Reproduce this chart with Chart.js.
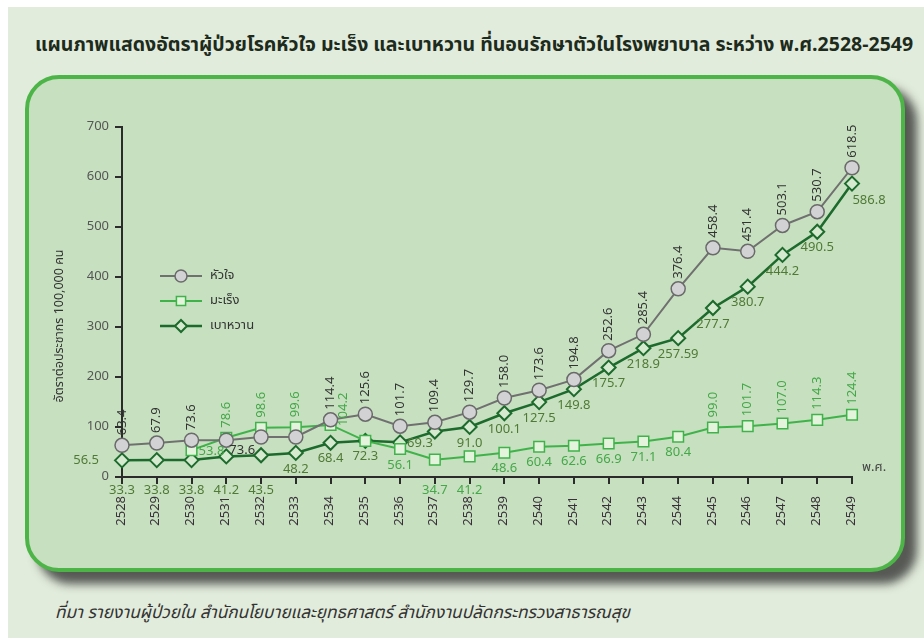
<!DOCTYPE html>
<html>
<head>
<meta charset="utf-8">
<script src="https://cdn.jsdelivr.net/npm/chart.js@4.4.1/dist/chart.umd.min.js"></script>
<style>
  html, body { margin: 0; padding: 0; background: #ffffff; }
  body { width: 924px; height: 638px; position: relative; overflow: hidden;
         font-family: "Noto Sans Thai", "Noto Sans", "DejaVu Sans", sans-serif; }
  #page { position: absolute; left: 8px; top: 7px; width: 916px; height: 631px; background: #e2ecdc; }
  #title { position: absolute; left: 35px; top: 30px; font-size: 19.5px; font-weight: bold; color: #1d2b1d; white-space: nowrap; }
  #panel { position: absolute; left: 25px; top: 75px; width: 880px; height: 497px; box-sizing: border-box;
           border: 4px solid #4db548; border-radius: 34px; background: #c7e0c0;
           box-shadow: 12px 12px 10px rgba(40,40,40,0.75); }
  #wrap { position: absolute; left: 0; top: 0; width: 872px; height: 489px; }
  #note { position: absolute; left: 55px; top: 600px; font-size: 17.2px; font-style: italic; color: #333; white-space: nowrap; }
</style>
</head>
<body>
<div id="page"></div>
<div id="title">แผนภาพแสดงอัตราผู้ป่วยโรคหัวใจ มะเร็ง และเบาหวาน ที่นอนรักษาตัวในโรงพยาบาล ระหว่าง พ.ศ.2528-2549</div>
<div id="panel"><div id="wrap"><canvas id="chart"></canvas></div></div>
<div id="note">ที่มา รายงานผู้ป่วยใน สำนักนโยบายและยุทธศาสตร์ สำนักงานปลัดกระทรวงสาธารณสุข</div>
<script>
// ปี พ.ศ.
const years = ['2528', '2529', '2530', '2531', '2532', '2533', '2534', '2535', '2536', '2537', '2538',
  '2539', '2540', '2541', '2542', '2543', '2544', '2545', '2546', '2547', '2548', '2549'];

const heart = [63.4, 67.9, 73.6, 73.6, 80, 80, 114.4, 125.6, 101.7, 109.4, 129.7,
  158.0, 173.6, 194.8, 252.6, 285.4, 376.4, 458.4, 451.4, 503.1, 530.7, 618.5];
const heartText = ['63.4', '67.9', '73.6', '73.6', '', '', '114.4', '125.6', '101.7', '109.4', '129.7',
  '158.0', '173.6', '194.8', '252.6', '285.4', '376.4', '458.4', '451.4', '503.1', '530.7', '618.5'];

const cancer = [null, null, 53.8, 78.6, 98.6, 99.6, 104.2, 72.3, 56.1, 34.7, 41.2,
  48.6, 60.4, 62.6, 66.9, 71.1, 80.4, 99.0, 101.7, 107.0, 114.3, 124.4];
const cancerText = ['', '', '53.8', '78.6', '98.6', '99.6', '104.2', '', '56.1', '34.7', '41.2',
  '48.6', '60.4', '62.6', '66.9', '71.1', '80.4', '99.0', '101.7', '107.0', '114.3', '124.4'];

// ตำแหน่งจุดตามกราฟ (ป้ายตัวเลขในภาพเลื่อนไปหนึ่งปีตั้งแต่ 2537)
const diabetes = [33.3, 33.8, 33.8, 41.2, 43.5, 48.2, 68.4, 72.3, 69.3, 91.0, 100.1,
  127.5, 149.8, 175.7, 218.9, 257.59, 277.7, 338, 380.7, 444.2, 490.5, 586.8];
const diabetesText = ['33.3', '33.8', '33.8', '41.2', '43.5', '48.2', '68.4', '72.3', '69.3', '', '91.0',
  '100.1', '127.5', '149.8', '175.7', '218.9', '257.59', '277.7', '380.7', '444.2', '490.5', '586.8'];

const strayNote = '56.5';
const yTicks = [0, 100, 200, 300, 400, 500, 600, 700];

const FONT = '"Noto Sans Thai", "Noto Sans", "DejaVu Sans", sans-serif';

function drawUp(ctx, text, x, y) {
  ctx.save();
  ctx.translate(x, y);
  ctx.rotate(-Math.PI / 2);
  ctx.textAlign = 'left';
  ctx.textBaseline = 'middle';
  ctx.fillText(text, 0, 0);
  ctx.restore();
}

// ป้ายค่าบนจุด + legend + ชื่อแกน
const valueLabels = {
  id: 'valueLabels',
  afterDatasetsDraw(chart) {
    const ctx = chart.ctx;
    const area = chart.chartArea;
    const axisY = chart.scales.y.getPixelForValue(0);
    ctx.save();
    ctx.font = '13px ' + FONT;
    chart.data.datasets.forEach((ds, di) => {
      const meta = chart.getDatasetMeta(di);
      meta.data.forEach((pt, i) => {
        const text = ds.texts[i];
        if (!text) return;
        const mode = ds.labelMode(i, ds.data[i]);
        ctx.fillStyle = ds.labelColor;
        ctx.textBaseline = 'middle';
        if (mode === 'up') {
          drawUp(ctx, text, pt.x + 1, pt.y - 10);
        } else if (mode === 'upRight') {
          drawUp(ctx, text, pt.x + 14, pt.y + 1);
        } else if (mode === 'right') {
          ctx.textAlign = 'left';
          ctx.fillText(text, pt.x + 7, pt.y + 2);
        } else if (mode === 'belowRight') {
          ctx.textAlign = 'left';
          ctx.fillText(text, pt.x + 3, pt.y + 11);
        } else if (mode === 'axis') {
          ctx.textAlign = 'center';
          ctx.fillText(text, pt.x, axisY + 14);
        } else if (mode === 'corner') {
          ctx.textAlign = 'center';
          ctx.fillText(text, pt.x + 17, pt.y + 18);
        } else {
          ctx.textAlign = 'center';
          ctx.fillText(text, pt.x, pt.y + 17);
        }
      });
    });
    // ค่าที่อยู่ข้างแกน
    const first = chart.getDatasetMeta(2).data[0];
    ctx.fillStyle = '#4f7a35';
    ctx.textAlign = 'right';
    ctx.textBaseline = 'middle';
    ctx.fillText(strayNote, area.left - 23, first.y + 1);

    // พ.ศ.
    ctx.fillStyle = '#444';
    ctx.textAlign = 'left';
    ctx.fillText('พ.ศ.', area.right + 10, axisY - 9);

    // ชื่อแกน y
    ctx.save();
    ctx.font = '12.5px ' + FONT;
    ctx.translate(31, (area.top + area.bottom) / 2 + 24);
    ctx.rotate(-Math.PI / 2);
    ctx.textAlign = 'center';
    ctx.fillStyle = '#333';
    ctx.fillText('อัตราต่อประชากร 100,000 คน', 0, 0);
    ctx.restore();

    // legend
    const lx = area.left + 38;
    let ly = area.top + 149;
    chart.data.datasets.forEach((ds) => {
      ctx.strokeStyle = ds.borderColor;
      ctx.lineWidth = ds.borderWidth;
      ctx.beginPath();
      ctx.moveTo(lx, ly);
      ctx.lineTo(lx + 42, ly);
      ctx.stroke();
      ctx.fillStyle = ds.pointBackgroundColor;
      ctx.strokeStyle = ds.pointBorderColor;
      ctx.lineWidth = ds.pointBorderWidth;
      Chart.helpers.drawPoint(ctx, {
        pointStyle: ds.pointStyle, radius: ds.pointRadius - 1, borderWidth: ds.pointBorderWidth
      }, lx + 21, ly);
      ctx.fillStyle = '#333';
      ctx.textAlign = 'left';
      ctx.fillText(ds.label, lx + 50, ly);
      ly += 25;
    });
    ctx.restore();
  }
};

new Chart(document.getElementById('chart'), {
  type: 'line',
  data: {
    labels: years,
    datasets: [{
      label: 'หัวใจ',
      data: heart,
      texts: heartText,
      labelColor: '#333333',
      labelMode: (i) => (i === 3 ? 'belowRight' : 'up'),
      borderColor: '#707070',
      borderWidth: 2,
      pointStyle: 'circle',
      pointRadius: 7,
      pointBackgroundColor: '#d2d2d5',
      pointBorderColor: '#6a6a6a',
      pointBorderWidth: 1.5
    }, {
      label: 'มะเร็ง',
      data: cancer,
      texts: cancerText,
      labelColor: '#44a848',
      labelMode: (i, v) => {
        if (i === 2) return 'right';
        if (i === 6) return 'upRight';
        if ((i >= 3 && i <= 5) || i >= 17) return 'up';
        return v < 45 ? 'axis' : 'below';
      },
      borderColor: '#3fb34a',
      borderWidth: 2,
      pointStyle: 'rect',
      pointRadius: 7.5,
      pointBackgroundColor: '#e4f3dc',
      pointBorderColor: '#3fb34a',
      pointBorderWidth: 1.5
    }, {
      label: 'เบาหวาน',
      data: diabetes,
      texts: diabetesText,
      labelColor: '#4f7a35',
      labelMode: (i, v) => {
        if (v < 45) return 'axis';
        if (i === 8) return 'right';
        if (i === 21) return 'corner';
        return 'below';
      },
      borderColor: '#1c6a2c',
      borderWidth: 2.5,
      pointStyle: 'rectRot',
      pointRadius: 7,
      pointBackgroundColor: '#d6ead0',
      pointBorderColor: '#1c6a2c',
      pointBorderWidth: 2
    }]
  },
  options: {
    responsive: true,
    maintainAspectRatio: false,
    animation: false,
    layout: { padding: { top: 48, right: 49, left: 0, bottom: 0 } },
    plugins: {
      legend: { display: false },
      tooltip: { enabled: false }
    },
    scales: {
      x: {
        offset: false,
        afterFit: (s) => { s.height = 91; },
        grid: { display: true, drawOnChartArea: false, drawTicks: true, tickLength: 7, color: '#2b2b2b', lineWidth: 2 },
        border: { display: true, color: '#2b2b2b', width: 2 },
        ticks: { minRotation: 90, maxRotation: 90, padding: 12, color: '#3a2f3a', font: { size: 13, family: FONT } }
      },
      y: {
        min: 0,
        max: 700,
        afterFit: (s) => { s.width = 93; },
        afterBuildTicks: (s) => { s.ticks = yTicks.map(v => ({ value: v })); },
        grid: { display: true, drawOnChartArea: false, drawTicks: true, tickLength: 7, color: '#2b2b2b', lineWidth: 2 },
        border: { display: true, color: '#2b2b2b', width: 2 },
        ticks: { padding: 6, color: '#555', font: { size: 13, family: FONT } }
      }
    }
  },
  plugins: [valueLabels]
});
</script>
</body>
</html>
